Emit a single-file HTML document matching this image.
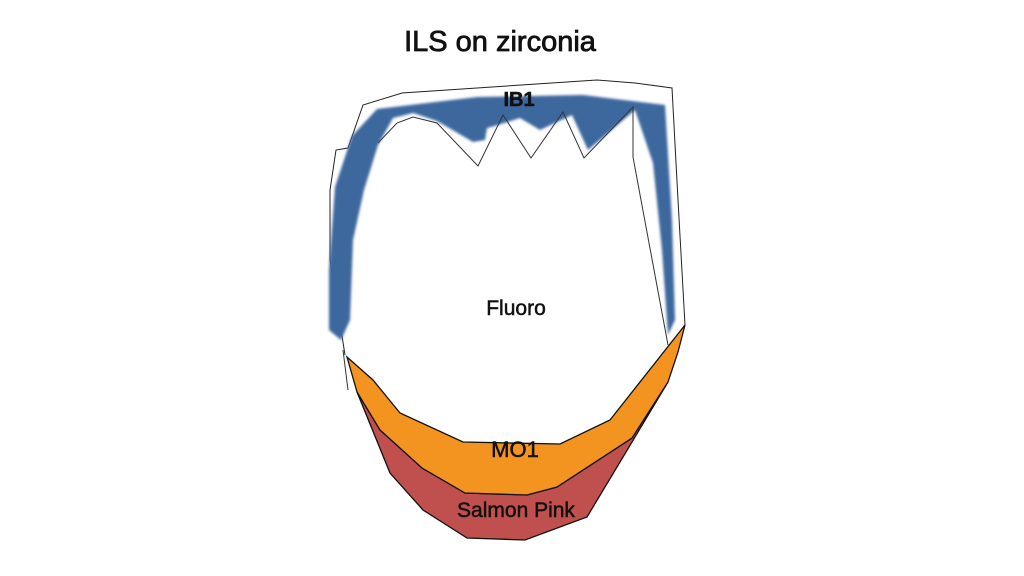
<!DOCTYPE html>
<html><head><style>
html,body{margin:0;padding:0;background:#fff;}
svg{display:block;}
text{font-family:"Liberation Sans",sans-serif;fill:#111;text-anchor:middle;stroke:#111;stroke-width:0.5;}
</style></head><body>
<svg width="1024" height="576" viewBox="0 0 1024 576">
<defs><filter id="b"><feGaussianBlur stdDeviation="1.2"/></filter></defs>
<text x="500" y="51" font-size="29" style="stroke-width:0.8">ILS on zirconia</text>
<polyline points="345,355 330,260 330,190 336,150 348,148 363,105 402,93 597,80 635,83 672,88 678,200 685,325" fill="none" stroke="#222" stroke-width="1"/>
<path filter="url(#b)" fill="#3d679e" d="M352,136 L377,109 L477,97 L583,95 L665,105 L672,220 L675,320 L668,335 L662,250 L653,163 L635,110 L588,150 L572,115 L540,130 L520,118 L498,125 L487,128 L485,140 L473,142 L437,121 L413,113 L393,118 L378,145 L364,190 L353,240 L350,320 L341,340 L329,330 L329,270 L335,187 Z"/>
<polyline points="378,143 397,123 413,117 437,123 478,166 503,115 531,158 563,112 584,158 633,107 633,157 668,345" fill="none" stroke="#333" stroke-width="1"/>
<polyline points="343,350 348,390" fill="none" stroke="#333" stroke-width="1"/>
<polygon points="357,392 380,430 422,468 465,493 527,495 557,487 632,438 668,382 587,517 525,540 467,538 423,510 390,473" fill="#c0504d" stroke="#111" stroke-width="1.3"/>
<polygon points="347,357 373,380 400,413 463,442 560,444 610,420 685,325 678,352 668,382 632,438 557,487 527,495 465,493 422,468 380,430 357,392" fill="#f39320" stroke="#111" stroke-width="1.3"/>
<text x="519" y="106" font-size="20" font-weight="bold">IB1</text>
<text x="516" y="315" font-size="21">Fluoro</text>
<text x="515" y="457" font-size="22">MO1</text>
<text x="516" y="517" font-size="21">Salmon Pink</text>
</svg>
</body></html>
